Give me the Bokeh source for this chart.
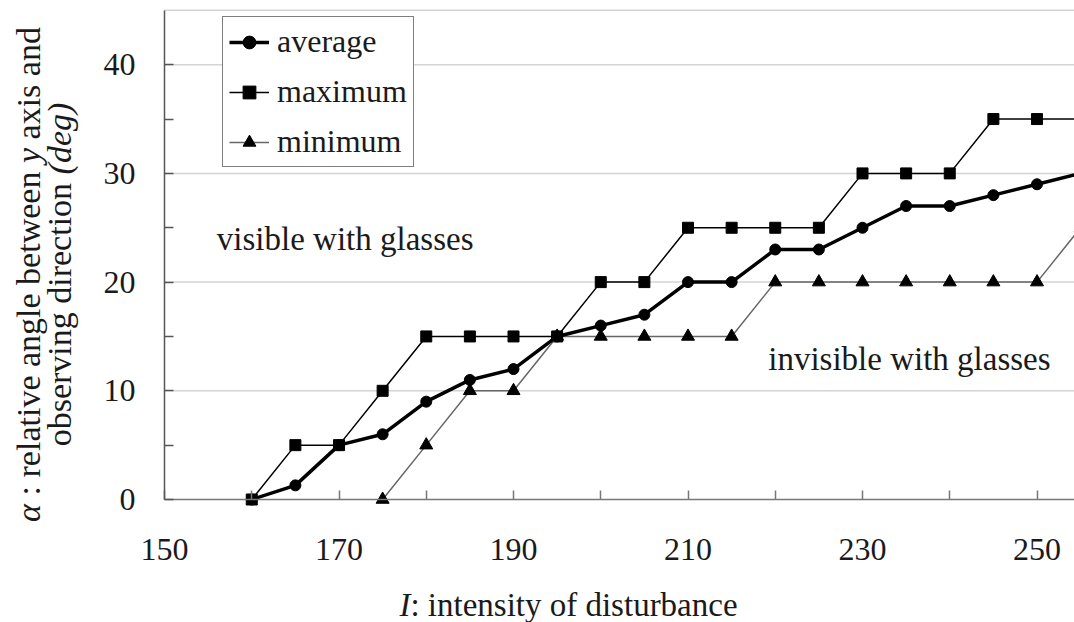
from math import pi

from bokeh.embed import file_html
from bokeh.models import FixedTicker, Label, Range1d
from bokeh.plotting import figure
from bokeh.resources import INLINE

# Observed viewing angle versus disturbance intensity
intensity = [160, 165, 170, 175, 180, 185, 190, 195, 200, 205,
             210, 215, 220, 225, 230, 235, 240, 245, 250, 255]
average = [0, 1.3, 5, 6, 9, 11, 12, 15, 16, 17,
           20, 20, 23, 23, 25, 27, 27, 28, 29, 30]
maximum = [0, 5, 5, 10, 15, 15, 15, 15, 20, 20,
           25, 25, 25, 25, 30, 30, 30, 35, 35, 35]
minimum_x = [175, 180, 185, 190, 195, 200, 205, 210, 215,
             220, 225, 230, 235, 240, 245, 250, 255]
minimum = [0, 5, 10, 10, 15, 15, 15, 15, 15,
           20, 20, 20, 20, 20, 20, 20, 25]

x_tick_values = [150, 170, 190, 210, 230, 250]
x_minor_values = [160, 180, 200, 220, 240]
y_tick_values = [0, 10, 20, 30, 40]
y_minor_values = [5, 15, 25, 35]

SERIF = "Liberation Serif"
INK = "#1a1a1a"

W, H = 1074, 622
# plot box: data x 150 sits at canvas x 164, data y 0 at canvas y 499
X0, Y0 = 150, 0
ORIGIN_X, ORIGIN_Y = 164, 499
PX_X, PX_Y = 8.725, 10.87
X_END, Y_TOP = 254.3, 45

x_range = Range1d(X0 - ORIGIN_X / PX_X, X0 + (W - ORIGIN_X) / PX_X)
y_range = Range1d(Y0 - (H - ORIGIN_Y) / PX_Y, Y0 + ORIGIN_Y / PX_Y)

p = figure(width=W, height=H, output_backend="svg", toolbar_location=None,
           x_range=x_range, y_range=y_range,
           min_border_left=0, min_border_top=0,
           min_border_bottom=0, min_border_right=0)
p.background_fill_color = "white"
p.border_fill_color = "white"
p.outline_line_color = None
p.xgrid.visible = False
p.ygrid.visible = False

# axes pinned to the plot box corner
p.xaxis.fixed_location = Y0
p.xaxis.bounds = (X0, X_END)
p.yaxis.fixed_location = X0
p.yaxis.bounds = (Y0, Y_TOP)
p.xaxis.ticker = FixedTicker(ticks=x_tick_values, minor_ticks=x_minor_values)
p.yaxis.ticker = FixedTicker(ticks=y_tick_values, minor_ticks=y_minor_values)
for ax in (p.xaxis[0], p.yaxis[0]):
    ax.major_label_text_font = SERIF
    ax.major_label_text_font_size = "32px"
    ax.major_label_text_color = INK
    ax.major_tick_out = 0
    ax.minor_tick_out = 0
    ax.major_tick_in = 9
    ax.minor_tick_in = 9
    ax.axis_line_width = 1.5
    ax.major_tick_line_width = 1.5
    ax.minor_tick_line_width = 1.5
p.xaxis.axis_line_color = "#777777"
p.xaxis.major_tick_line_color = "#777777"
p.xaxis.minor_tick_line_color = "#777777"
p.yaxis.axis_line_color = "#555555"
p.yaxis.major_tick_line_color = "#555555"
p.yaxis.minor_tick_line_color = "#555555"
p.xaxis.major_label_standoff = 39
p.yaxis.major_label_standoff = 29

# horizontal grid lines plus the top edge of the plot box
grid_levels = y_tick_values[1:] + [Y_TOP]
p.segment(x0=[X0] * len(grid_levels), x1=[X_END] * len(grid_levels),
          y0=grid_levels, y1=grid_levels, line_color="#d4d4d4", line_width=1.5)

# series
p.line(intensity, maximum, line_color="black", line_width=1.5, legend_label="maximum")
p.scatter(intensity, maximum, marker="square", size=11, fill_color="black",
          line_color="black", legend_label="maximum")
p.line(minimum_x, minimum, line_color="#666666", line_width=1.5, legend_label="minimum")
p.scatter(minimum_x, minimum, marker="triangle", size=13, fill_color="black",
          line_color="black", legend_label="minimum")
p.line(intensity, average, line_color="black", line_width=3.5, legend_label="average")
p.scatter(intensity, average, marker="circle", size=11, fill_color="black",
          line_color="black", legend_label="average")

# legend order: average, maximum, minimum
leg = p.legend[0]
items = {it.label.value: it for it in leg.items}
leg.items = [items["average"], items["maximum"], items["minimum"]]
leg.location = (222, H - 167)
leg.label_text_font = SERIF
leg.label_text_font_size = "32px"
leg.label_text_color = INK
leg.label_height = 32
leg.glyph_height = 32
leg.glyph_width = 40
leg.label_standoff = 8
leg.spacing = 13
leg.padding = 6
leg.margin = 0
leg.border_line_color = "black"
leg.border_line_width = 1
leg.background_fill_alpha = 1

# region annotations
p.add_layout(Label(x=156.0, y=24.0, text="visible with glasses", text_font=SERIF,
                   text_font_size="33px", text_color=INK,
                   text_align="left", text_baseline="alphabetic"))
p.add_layout(Label(x=219.2, y=12.95, text="invisible with glasses", text_font=SERIF,
                   text_font_size="33px", text_color=INK,
                   text_align="left", text_baseline="alphabetic"))

# axis titles with mixed roman / italic runs (Times-compatible advance widths)
ROMAN = {' ': 250, ':': 278, '(': 333, ')': 333, 'a': 444, 'b': 500, 'c': 444,
         'd': 500, 'e': 444, 'f': 333, 'g': 500, 'h': 500, 'i': 278, 'l': 278,
         'm': 778, 'n': 500, 'o': 500, 'r': 333, 's': 389, 't': 278, 'u': 500,
         'v': 500, 'w': 722, 'x': 500, 'y': 500}
ITALIC = {'I': 333, 'd': 500, 'e': 444, 'g': 500, 'y': 444, '(': 333, ')': 333,
          'α': 530}


def run_width(s, italic, size):
    table = ITALIC if italic else ROMAN
    return sum(table.get(c, 500) for c in s) * size / 1000


def place_runs(runs, start, fixed, vertical, size):
    """Lay out text runs one after another along x (or up along y when vertical)."""
    offset = 0.0
    for text, italic in runs:
        lead = len(text) - len(text.lstrip())
        pos = start + offset + run_width(text[:lead], italic, size)
        kw = dict(text=text.strip(), x_units="screen", y_units="screen",
                  text_font=SERIF, text_font_size=f"{size}px",
                  text_font_style="italic" if italic else "normal",
                  text_color=INK, text_align="left", text_baseline="alphabetic")
        if vertical:
            p.add_layout(Label(x=fixed, y=pos, angle=pi / 2, **kw))
        else:
            p.add_layout(Label(x=pos, y=fixed, **kw))
        offset += run_width(text, italic, size)
    return offset


y_title_1 = [("α", True), (" : relative angle between ", False), ("y", True),
             (" axis and", False)]
y_title_2 = [("observing direction ", False), ("(deg)", True)]
x_title = [("I", True), (": intensity of disturbance", False)]

# screen units: x from the left edge, y up from the bottom edge
Y_TITLE_SIZE = 34
for runs, base_x in ((y_title_1, 28), (y_title_2, 59)):
    total = sum(run_width(t, i, Y_TITLE_SIZE) for t, i in runs)
    start_canvas_y = 274 + total / 2
    place_runs(runs, H - start_canvas_y, base_x, True, Y_TITLE_SIZE)

X_TITLE_SIZE = 33
total_x = sum(run_width(t, i, X_TITLE_SIZE) for t, i in x_title)
place_runs(x_title, 568 - total_x / 2, H - 604, False, X_TITLE_SIZE)

open("out.html", "w").write(file_html(p, INLINE))
